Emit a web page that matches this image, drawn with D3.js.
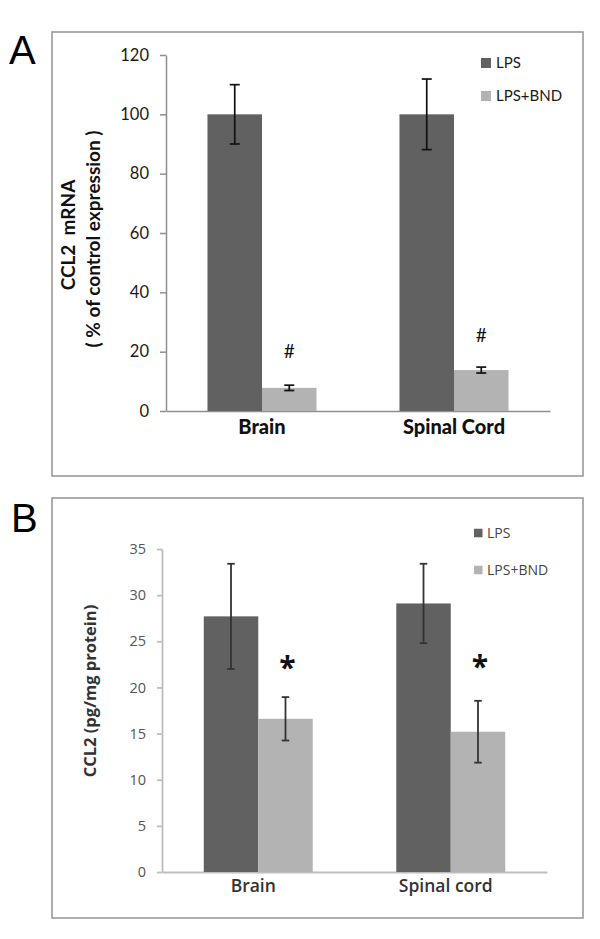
<!DOCTYPE html>
<html>
<head>
<meta charset="utf-8">
<script src="https://cdn.jsdelivr.net/npm/d3@7"></script>
<style>
  html, body { margin: 0; padding: 0; background: #fff; }
  svg { display: block; }
</style>
</head>
<body>
<svg id="chart" width="600" height="939"></svg>
<script>
// ---------- DATA ----------
const seriesNames = ["LPS", "LPS+BND"];

// Panel A: CCL2 mRNA (% of control expression)
const categoriesA = ["Brain", "Spinal Cord"];
const lpsA = [100, 100];
const lpsErrA = [10, 11.9];
const bndA = [7.8, 13.8];
const bndErrA = [0.9, 1.0];
const marksA = ["#", "#"];
const markLevelA = [20.3, 25.4];   // centre of the mark, in data units
const ticksA = [0, 20, 40, 60, 80, 100, 120];

// Panel B: CCL2 (pg/mg protein)
const categoriesB = ["Brain", "Spinal cord"];
const lpsB = [27.7, 29.1];
const lpsErrB = [5.7, 4.3];
const bndB = [16.6, 15.2];
const bndErrB = [2.35, 3.35];
const marksB = ["*", "*"];
const markLevelB = [22.7, 22.8];
const ticksB = [0, 5, 10, 15, 20, 25, 30, 35];

const colors = ["#616161", "#b3b3b3"];

// ---------- DRAW ----------
const svg = d3.select("#chart");

function panel(cfg) {
  const g = svg.append("g");
  g.append("rect")
    .attr("x", cfg.box[0]).attr("y", cfg.box[1])
    .attr("width", cfg.box[2] - cfg.box[0]).attr("height", cfg.box[3] - cfg.box[1])
    .attr("fill", "none").attr("stroke", "#9a9a9a").attr("stroke-width", 1.6);
  g.append("text")
    .attr("x", cfg.letterPos[0]).attr("y", cfg.letterPos[1])
    .attr("font-family", "Liberation Sans, Arial, sans-serif")
    .attr("font-size", 40).attr("fill", "#000")
    .text(cfg.letter);

  const y = d3.scaleLinear().domain(cfg.yDomain).range(cfg.yRange);
  const x0 = d3.scaleBand().domain(cfg.categories).range(cfg.xRange)
    .paddingInner(cfg.pad).paddingOuter(cfg.pad / 2);
  const x1 = d3.scaleBand().domain(seriesNames).range([0, x0.bandwidth()]);

  const yAxis = d3.axisLeft(y).tickValues(cfg.ticks).tickSizeInner(cfg.tickLen).tickSizeOuter(0).tickPadding(cfg.tickPad);
  const ya = g.append("g").attr("transform", `translate(${cfg.xRange[0]},0)`).call(yAxis);
  ya.select(".domain").attr("stroke", cfg.axisColor).attr("stroke-width", cfg.axisWidth);
  ya.selectAll(".tick line").attr("stroke", cfg.axisColor).attr("stroke-width", cfg.axisWidth);
  ya.selectAll(".tick text")
    .attr("font-family", cfg.tickFont).attr("font-size", cfg.tickSize)
    .attr("fill", cfg.tickColor);

  const xAxis = d3.axisBottom(x0).tickSize(0).tickPadding(cfg.xLabelPad);
  const xa = g.append("g").attr("transform", `translate(0,${cfg.yRange[0]})`).call(xAxis);
  xa.select(".domain").attr("stroke", cfg.axisColor).attr("stroke-width", cfg.axisWidth);
  xa.selectAll(".tick text")
    .attr("font-family", cfg.xFont).attr("font-size", cfg.xSize)
    .attr("font-weight", cfg.xWeight).attr("fill", cfg.xColor)
    .attr("dx", cfg.xLabelDx);

  const rows = cfg.categories.map((c, i) => ({
    cat: c,
    vals: [
      { s: seriesNames[0], v: cfg.lps[i], e: cfg.lpsErr[i] },
      { s: seriesNames[1], v: cfg.bnd[i], e: cfg.bndErr[i], mark: cfg.marks[i], level: cfg.markLevel[i] }
    ]
  }));
  const grp = g.selectAll(".grp").data(rows).enter().append("g")
    .attr("transform", d => `translate(${x0(d.cat)},0)`);
  grp.selectAll("rect").data(d => d.vals).enter().append("rect")
    .attr("x", d => x1(d.s))
    .attr("y", d => y(d.v))
    .attr("width", x1.bandwidth())
    .attr("height", d => y(0) - y(d.v))
    .attr("fill", (d, i) => colors[i]);

  const eb = grp.selectAll(".eb").data(d => d.vals).enter().append("g")
    .attr("stroke", cfg.errColor).attr("stroke-width", cfg.errWidth);
  const cx = d => x1(d.s) + x1.bandwidth() / 2;
  eb.append("line").attr("x1", cx).attr("x2", cx)
    .attr("y1", d => y(d.v + d.e)).attr("y2", d => y(d.v - d.e));
  eb.append("line").attr("x1", d => cx(d) - cfg.cap / 2).attr("x2", d => cx(d) + cfg.cap / 2)
    .attr("y1", d => y(d.v + d.e)).attr("y2", d => y(d.v + d.e));
  eb.append("line").attr("x1", d => cx(d) - cfg.cap / 2).attr("x2", d => cx(d) + cfg.cap / 2)
    .attr("y1", d => y(d.v - d.e)).attr("y2", d => y(d.v - d.e));

  grp.selectAll(".mk").data(d => d.vals.filter(v => v.mark)).enter().append("text")
    .attr("x", d => cx(d) + cfg.markDx)
    .attr("y", d => y(d.level) + cfg.markBase * cfg.markSize)
    .attr("text-anchor", "middle")
    .attr("font-family", cfg.markFont).attr("font-size", cfg.markSize)
    .attr("font-weight", cfg.markWeight).attr("fill", "#111")
    .text(d => d.mark);

  const lg = g.selectAll(".lg").data(seriesNames).enter().append("g")
    .attr("transform", (d, i) => `translate(${cfg.legendPos[0]},${cfg.legendPos[1] + i * cfg.legendStep})`);
  lg.append("rect").attr("x", 0).attr("y", -cfg.legendSq / 2).attr("width", cfg.legendSq).attr("height", cfg.legendSq)
    .attr("fill", (d, i) => colors[i]);
  lg.append("text").attr("x", cfg.legendTextDx).attr("y", 0).attr("dy", "0.36em")
    .attr("font-family", cfg.legendFont).attr("font-size", cfg.legendSize).attr("fill", cfg.legendColor)
    .text(d => d);

  cfg.titles.forEach(t => {
    g.append("text")
      .attr("transform", `translate(${t.x},${t.y}) rotate(-90)`)
      .attr("text-anchor", "middle")
      .attr("font-family", cfg.titleFont).attr("font-size", cfg.titleSize)
      .attr("font-weight", "bold").attr("fill", cfg.titleColor)
      .style("white-space", "pre")
      .text(t.text);
  });
}

panel({
  letter: "A", letterPos: [9, 64],
  box: [52, 32, 583, 476],
  categories: categoriesA, lps: lpsA, lpsErr: lpsErrA, bnd: bndA, bndErr: bndErrA, marks: marksA, markLevel: markLevelA,
  ticks: ticksA, yDomain: [0, 120], yRange: [411, 55], xRange: [166, 550], pad: 0.432,
  tickLen: 6, tickPad: 11, axisColor: "#8f8f8f", axisWidth: 1.5,
  tickFont: "Lato, sans-serif", tickSize: 16.5, tickColor: "#1a1a1a",
  xFont: "Lato, sans-serif", xSize: 20, xWeight: "900", xColor: "#111", xLabelPad: 9, xLabelDx: 0,
  errColor: "#111", errWidth: 1.7, cap: 10,
  markFont: "Lato, sans-serif", markSize: 19, markWeight: "normal", markDx: 0, markBase: 0.36,
  legendPos: [481, 63], legendStep: 33, legendSq: 10, legendTextDx: 15,
  legendFont: "Lato, sans-serif", legendSize: 15, legendColor: "#1a1a1a",
  titleFont: "Lato, sans-serif", titleSize: 19, titleColor: "#111",
  titles: [{ x: 75, y: 235, text: "CCL2  mRNA" }, { x: 100, y: 239, text: "( % of control expression )" }]
});

panel({
  letter: "B", letterPos: [11, 532],
  box: [52, 498, 583, 918],
  categories: categoriesB, lps: lpsB, lpsErr: lpsErrB, bnd: bndB, bndErr: bndErrB, marks: marksB, markLevel: markLevelB,
  ticks: ticksB, yDomain: [0, 35], yRange: [872, 549], xRange: [162, 547], pad: 0.434,
  tickLen: 5, tickPad: 11, axisColor: "#bdbdbd", axisWidth: 1.8,
  tickFont: "Open Sans, sans-serif", tickSize: 14.5, tickColor: "#555",
  xFont: "Open Sans, sans-serif", xSize: 17.5, xWeight: "600", xColor: "#333", xLabelPad: 8, xLabelDx: -5,
  errColor: "#333", errWidth: 1.8, cap: 7.5,
  markFont: "Open Sans, sans-serif", markSize: 30, markWeight: "bold", markDx: 2, markBase: 0.5,
  legendPos: [474, 533], legendStep: 37, legendSq: 8.5, legendTextDx: 13,
  legendFont: "Open Sans, sans-serif", legendSize: 14, legendColor: "#444",
  titleFont: "Open Sans, sans-serif", titleSize: 16.5, titleColor: "#333",
  titles: [{ x: 96, y: 691, text: "CCL2 (pg/mg protein)" }]
});
</script>
</body>
</html>
